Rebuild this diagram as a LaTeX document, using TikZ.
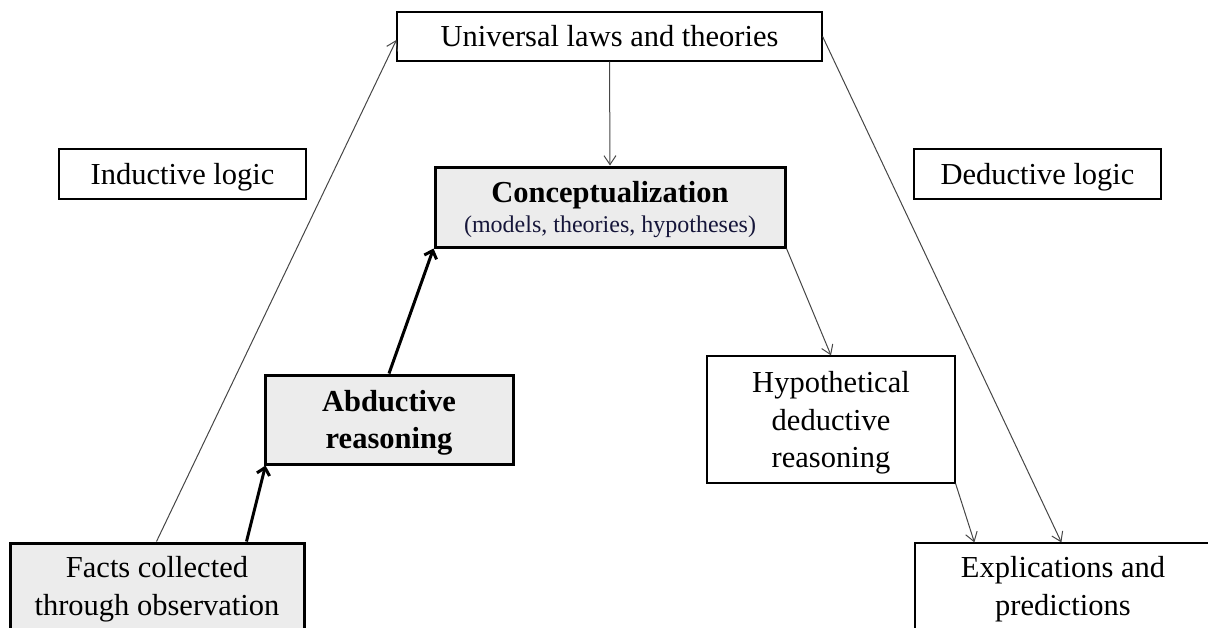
\documentclass[tikz,border=0pt]{standalone}
\usepackage{fontspec}
\setmainfont{Liberation Serif}
\usetikzlibrary{arrows.meta,calc}
\definecolor{boxgray}{RGB}{236,236,236}
\definecolor{linegray}{RGB}{70,70,70}
\definecolor{subtitle}{RGB}{22,22,58}
\begin{document}
\begin{tikzpicture}[x=1pt,y=-1pt,
  base/.style={draw=black, align=center, inner sep=0pt, font=\fontsize{30.5}{37.5}\selectfont},
  thinbox/.style={base, line width=1.2pt},
  thickbox/.style={base, line width=3pt, fill=boxgray},
  nodepth/.style={text depth=0pt},
  thinarrow/.style={draw=linegray, line width=1pt, -{Straight Barb[length=9pt,width=12pt]}},
  thickarrow/.style={draw=black, line width=3pt, -{Straight Barb[length=7pt,width=13pt]}},
]
\useasboundingbox (0,0) rectangle (1208,627);
\clip (0,0) rectangle (1208,627);

\node[thinbox, minimum width=425pt, minimum height=49pt] (univ) at (609.5,36.5) {Universal laws and theories};
\node[thinbox, nodepth, minimum width=247pt, minimum height=50pt] (ind) at (182.5,174) {Inductive logic};
\node[thinbox, nodepth, minimum width=247pt, minimum height=50pt] (ded) at (1037.5,174) {Deductive logic};
\node[thickbox, nodepth, minimum width=350pt, minimum height=80pt] (conc) at (610,207)
  {\textbf{Conceptualization}\\[-7.5pt]{\color{subtitle}\fontsize{24}{28}\selectfont(models, theories, hypotheses)}};
\node[thickbox, nodepth, minimum width=248pt, minimum height=89pt, font=\fontsize{30.5}{37.5}\selectfont\bfseries] (abd) at (389,419.5) {Abductive\\reasoning};
\node[thinbox, nodepth, minimum width=248pt, minimum height=127pt] (hyp) at (831,419.5) {Hypothetical\\deductive\\reasoning};
\node[thickbox, minimum width=294pt, minimum height=92pt] (facts) at (157,589) {Facts collected\\through observation};
\node[thinbox, minimum width=296pt, minimum height=92pt] (expl) at (1063,589) {Explications and\\predictions};

\draw[thinarrow] ($(facts.north west)+(148,0)$) -- ([yshift=-3.5pt]univ.west);
\draw[thickarrow] ($(facts.north west)+(238,0)$) -- ([xshift=2pt]abd.south west);
\draw[thickarrow] (abd.north) -- (conc.south west);
\draw[thinarrow] (univ.south) -- (conc.north);
\draw[thinarrow] (conc.south east) -- (hyp.north);
\draw[thinarrow] (hyp.south east) -- ($(expl.north west)+(60,0)$);
\draw[thinarrow] (univ.east) -- ($(expl.north west)+(147,0)$);
\end{tikzpicture}
\end{document}
